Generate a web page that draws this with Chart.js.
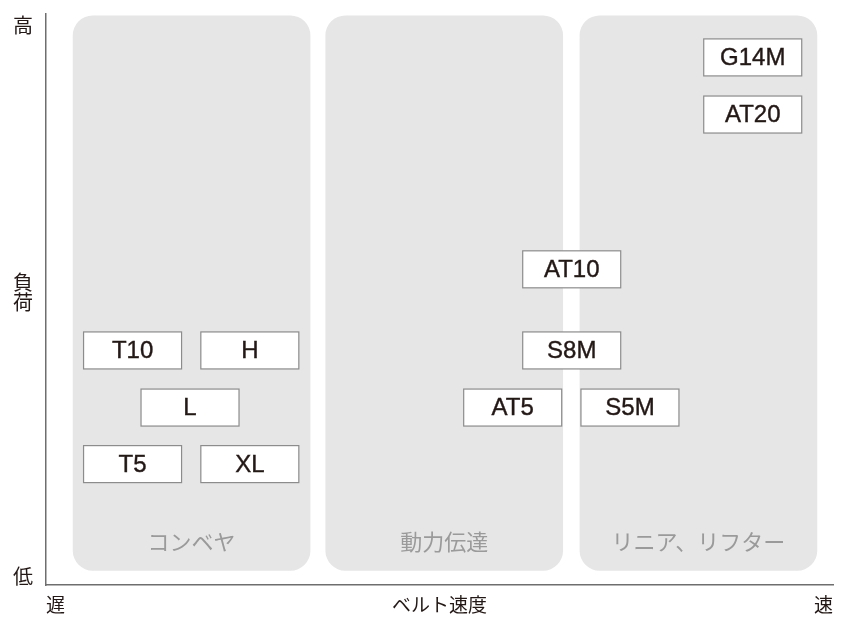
<!DOCTYPE html>
<html>
<head>
<meta charset="utf-8">
<script src="https://cdn.jsdelivr.net/npm/chart.js@4/dist/chart.umd.min.js"></script>
<style>
  html, body { margin: 0; padding: 0; background: #ffffff; }
  #wrap { width: 846px; height: 617px; position: relative; }
</style>
</head>
<body>
<div id="wrap"><canvas id="c"></canvas></div>
<script>
// ---- data ----
const zoneNames  = ['コンベヤ', '動力伝達', 'リニア、リフター'];
const zoneCenter = [18.5, 50.6, 82.9];
const zoneLow    = [2.6, 2.6, 2.6];
const zoneHigh   = [99.7, 99.7, 99.7];

const beltNames = ['T10', 'H', 'L', 'T5', 'XL', 'AT10', 'S8M', 'AT5', 'S5M', 'G14M', 'AT20'];
const beltSpeed = [11.0, 25.9, 18.3, 11.0, 25.9, 66.8, 66.8, 59.3, 74.2, 89.8, 89.8];
const beltLoad  = [41.1, 41.1, 31.1, 21.2, 21.2, 55.3, 41.1, 31.1, 31.1, 92.4, 82.4];

const xTickValues = [0, 50, 100];
const xTickLabels = ['遅', 'ベルト速度', '速'];
const yTickValues = [0, 50, 100];
const yTickLabels = [['低'], ['負', '荷'], ['高']];

const CJK = '"Noto Sans CJK JP", "Noto Sans", sans-serif';
const LAT = '"Liberation Sans", Arial, sans-serif';

const yLabelPlugin = {
  id: 'yLabels',
  afterDraw(chart) {
    const ctx = chart.ctx, ys = chart.scales.y;
    ctx.save();
    ctx.font = '20px ' + CJK;
    ctx.fillStyle = '#231815';
    ctx.textAlign = 'center';
    ctx.textBaseline = 'top';
    const lh = 20;
    yTickValues.forEach((v, i) => {
      const lines = yTickLabels[i];
      const p = ys.getPixelForValue(v);
      let top;
      if (v === ys.max) top = p;
      else if (v === ys.min) top = p - lines.length * lh;
      else top = p - lines.length * lh / 2 - 8;
      lines.forEach((t, j) => ctx.fillText(t, 23, top + j * lh + 1));
    });
    ctx.restore();
  }
};

const boxPlugin = {
  id: 'boxes',
  afterDatasetsDraw(chart) {
    const ctx = chart.ctx;
    ctx.save();
    // zone labels
    const zm = chart.getDatasetMeta(0);
    ctx.font = '22px ' + CJK;
    ctx.fillStyle = '#9a9a9a';
    ctx.textAlign = 'center';
    ctx.textBaseline = 'middle';
    zm.data.forEach((el, i) => {
      const bottom = Math.max(el.y, el.base);
      ctx.fillText(zoneNames[i], el.x, bottom - 29);
    });
    // belt boxes
    const bm = chart.getDatasetMeta(1);
    const w = 98, h = 37;
    bm.data.forEach((el, i) => {
      const x = el.x, y = el.y;
      ctx.fillStyle = '#ffffff';
      ctx.fillRect(x - w / 2, y - h / 2, w, h);
      ctx.strokeStyle = '#8c8c8c';
      ctx.lineWidth = 1.2;
      ctx.strokeRect(x - w / 2, y - h / 2, w, h);
      ctx.fillStyle = '#231815';
      ctx.strokeStyle = '#231815';
      ctx.lineWidth = 0.4;
      ctx.font = '24px ' + LAT;
      ctx.textAlign = 'center';
      ctx.textBaseline = 'middle';
      ctx.fillText(beltNames[i], x, y + 1);
      ctx.strokeText(beltNames[i], x, y + 1);
    });
    ctx.restore();
  }
};

new Chart(document.getElementById('c'), {
  type: 'scatter',
  data: {
    datasets: [
      {
        type: 'bar',
        order: 2,
        data: zoneCenter.map((x, i) => ({ x: x, y: [zoneLow[i], zoneHigh[i]] })),
        backgroundColor: '#e6e6e6',
        borderWidth: 0,
        borderSkipped: false,
        borderRadius: { topLeft: 20, topRight: 20, bottomLeft: 20, bottomRight: 20 },
        barThickness: 237
      },
      {
        type: 'scatter',
        order: 1,
        data: beltSpeed.map((x, i) => ({ x: x, y: beltLoad[i] })),
        pointRadius: 0,
        pointHoverRadius: 0
      }
    ]
  },
  options: {
    responsive: true,
    maintainAspectRatio: false,
    animation: false,
    layout: { padding: { left: 46, right: 13, top: 14, bottom: -7 } },
    plugins: { legend: { display: false }, tooltip: { enabled: false } },
    scales: {
      x: {
        type: 'linear', min: 0, max: 100, offset: false,
        grid: { display: false, drawTicks: false, offset: false },
        border: { display: true, color: '#6e6e6e', width: 1.5 },
        afterBuildTicks: (s) => { s.ticks = xTickValues.map(v => ({ value: v })); },
        ticks: {
          autoSkip: false, maxRotation: 0, align: 'inner', padding: 8,
          color: '#231815', font: { family: CJK, size: 19 },
          callback: (v, i) => xTickLabels[i]
        }
      },
      y: {
        type: 'linear', min: 0, max: 100, offset: false,
        grid: { display: false, drawTicks: false },
        border: { display: true, color: '#6e6e6e', width: 1.5 },
        ticks: { display: false }
      }
    }
  },
  plugins: [yLabelPlugin, boxPlugin]
});
</script>
</body>
</html>
